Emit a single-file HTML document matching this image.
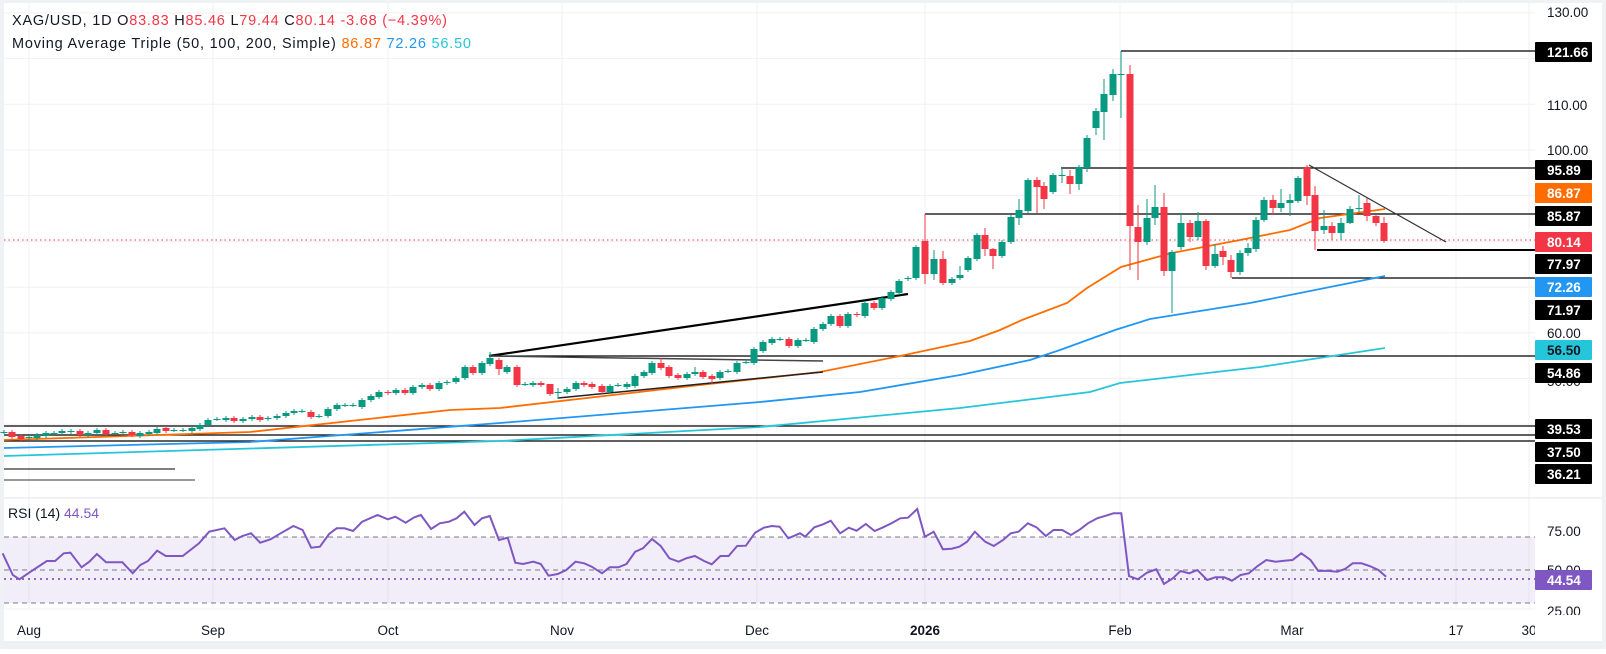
<!DOCTYPE html>
<html><head><meta charset="utf-8"><style>
html,body{margin:0;padding:0;background:#fff;}
body{width:1606px;height:649px;overflow:hidden;font-family:"Liberation Sans",sans-serif;}
svg text{font-family:"Liberation Sans",sans-serif;}
</style></head><body>
<svg id="c" width="1606" height="649" xmlns="http://www.w3.org/2000/svg"></svg>
<script>
const G='#089981',R='#f23645';
let s='';
s+='<rect x="0" y="0" width="1606" height="649" fill="#fff"/>';
s+='<rect x="0" y="641" width="1606" height="8" fill="#eef0f4"/>';
s+='<rect x="0" y="0" width="4" height="649" fill="#f0f1f5"/>';
s+='<rect x="1602" y="0" width="4" height="649" fill="#f0f1f5"/>';
s+='<rect x="0" y="0" width="1606" height="3" fill="#f0f1f5"/>';
const vx=[29,213,388,562,757,925,1120,1292,1456,1529];
vx.forEach(x=>{s+=`<line x1="${x}" y1="3" x2="${x}" y2="609" stroke="#f0f1f4" stroke-width="1"/>`;});
const py=v=>51+(121.66-v)*4.57;
[130,120,110,100,90,80,70,60,50,40].forEach(v=>{const y=py(v);s+=`<line x1="4" y1="${y}" x2="1535" y2="${y}" stroke="#f0f1f4"/>`;});
s+='<line x1="4" y1="498" x2="1602" y2="498" stroke="#e0e3eb"/>';
s+='<line x1="4" y1="609" x2="1535" y2="609" stroke="#eef0f4"/>';
const H=(x1,y,w)=>{s+=`<line x1="${x1}" y1="${y}" x2="1535" y2="${y}" stroke="#000" stroke-width="${w||1.3}"/>`;};
H(1121,51);H(1061,168);H(925,214);H(1317,250,2);H(1232,278);H(490,356);H(4,426);H(4,435);H(4,441);
s+='<line x1="4" y1="469" x2="175" y2="469" stroke="#333" stroke-width="1.2"/>';
s+='<line x1="4" y1="480" x2="195" y2="480" stroke="#333" stroke-width="1"/>';
const PL=(pts,c,w)=>{s+=`<polyline points="${pts}" fill="none" stroke="${c}" stroke-width="${w}"/>`;};
PL('4,456 500,441 760,427 960,408 1090,392 1120,383 1260,367 1385,348','#26c6da',1.8);
PL('4,448 250,442 500,423 760,402 860,392 960,375 1030,360 1060,350 1115,330 1150,319 1250,303 1385,276','#2196f3',1.8);
PL('4,440 250,432 450,410 500,408 700,385 820,372 900,356 970,341 1000,330 1022,320 1067,303 1087,288 1121,267 1172,253 1240,240 1290,230 1320,218 1385,209','#ff6d00',1.8);
s+='<line x1="489" y1="356" x2="908" y2="294" stroke="#000" stroke-width="2.2"/>';
s+='<line x1="489" y1="356" x2="823" y2="361" stroke="#444" stroke-width="1.5"/>';
s+='<line x1="558" y1="398" x2="823" y2="372" stroke="#222" stroke-width="1.5"/>';
s+='<line x1="1309" y1="165" x2="1446" y2="242" stroke="#333" stroke-width="1.2"/>';
s+='<line x1="4" y1="240" x2="1535" y2="240" stroke="#f23645" stroke-width="1" stroke-dasharray="1.5,3"/>';
const C=[[4,432,432],[12,432,437],[21,436,439],[29,438,437],[37,438,435],[46,436,433],[54,433,433],[62,433,431],[71,432,431],[80,431,435],[88,435,433],[97,433,430],[106,430,434],[115,433,433],[123,432,432],[132,432,435],[140,436,433],[149,434,432],[157,433,429],[166,428,431],[174,430,430],[183,430,430],[192,431,428],[200,429,425],[208,425,420],[217,419,419],[226,420,418],[234,418,421],[243,421,419],[252,419,417],[260,417,420],[268,419,418],[277,418,416],[286,416,413],[294,413,411],[302,411,411],[311,412,417],[319,416,416],[328,416,409],[337,409,405],[345,405,405],[353,405,405],[362,407,400],[371,400,396],[379,397,392],[388,392,393],[396,393,390],[405,390,393],[413,393,387],[422,387,385],[430,385,389],[439,389,383],[447,383,382],[456,382,378],
[465,378,367],[473,367,373],[482,373,363],[490,364,358,352,366],[499,360,369,358,375],[507,372,367],[517,367,385],[525,384,384],[533,385,383],[541,383,385],[550,384,394,392,396],[558,392,392,388,399],[567,392,389],[576,389,383],[584,383,385],[592,384,387],[602,386,392],[610,392,386],[618,385,385],[627,387,384],[635,386,376],[644,376,372],[652,373,363],[661,363,368,358,370],[669,367,376],[678,375,378],[687,378,374],[695,374,372,367,376],[703,372,377],[712,376,379,374,384],[720,378,372],[728,371,371],[737,372,363],[746,362,362],[754,363,349],[763,351,342],[772,343,339],[780,339,339],[789,339,346],[798,346,340],[806,340,340],[814,342,329],[823,329,324],[831,324,316],[840,316,326],[848,326,314],[857,314,315],[865,316,303],[874,303,308],[882,308,298],[891,299,292],[899,293,281],[908,279,278],[916,278,247],[925,241,274,214,284],[934,274,259,250,280],[943,259,283,251,285],[952,283,279],[960,278,275,266,280],[968,270,258],[977,259,235],[985,235,249,228,256],[993,249,256,248,269],[1002,256,242],[1011,242,217],[1019,218,210,199,225],[1028,211,180],[1037,180,187,177,213],[1044,186,199,182,209],[1053,192,175],[1062,175,175,167,183],[1070,176,184,170,194],[1079,184,167,165,190],
[1087,168,138,135,172],[1096,128,111,108,135],[1104,112,94,79,140],[1113,95,74,69,101],[1121,74,74,51,118],[1130,74,226,65,270],[1138,227,242,205,280],[1147,242,218,199,245],[1155,218,207,185,225],[1164,207,271,193,276],[1172,271,252,250,313],[1181,247,223,213,250],[1190,223,237,220,242],[1198,237,221,212,240],[1206,221,266,219,270],[1215,266,254,244,268],[1223,251,257,246,265],[1231,260,272,255,278],[1240,272,253,250,275],[1248,253,248,243,256],[1256,249,220,217,252],[1264,220,200,197,222],[1273,200,208,195,215],[1281,208,203,189,212],[1290,203,200,194,216],[1298,201,178,176,203],[1307,167,196,165,205],[1315,195,231,186,250],[1324,230,226,210,234],[1332,226,233,222,240],[1341,233,223,218,240],[1350,223,209,206,224],[1359,208,208,195,212],[1367,203,216,198,221],[1376,216,223,215,226],[1384,223,241,217,243]];
C.forEach(d=>{const [x,o,c]=d;const top=Math.min(o,c),bot=Math.max(o,c);const h=d[3]!==undefined?d[3]:top-2,l=d[4]!==undefined?d[4]:bot+2;const col=c>o?R:G;
s+=`<line x1="${x}" y1="${h}" x2="${x}" y2="${l}" stroke="${col}" stroke-width="1"/>`;
s+=`<rect x="${x-3.5}" y="${top}" width="7" height="${Math.max(1,bot-top)}" fill="${col}"/>`;});
s+='<rect x="4" y="537" width="1531" height="66" fill="#7e57c2" fill-opacity="0.1"/>';
[537,570,603].forEach(y=>{s+=`<line x1="4" y1="${y}" x2="1535" y2="${y}" stroke="#787b86" stroke-dasharray="5,4" stroke-width="1"/>`;});
s+='<line x1="4" y1="579" x2="1535" y2="579" stroke="#7e57c2" stroke-dasharray="2,4" stroke-width="1.8"/>';
const r1=[[5,190],[25,255],[38,268],[60,245],[80,225],[92,213],[108,213],[125,190],[138,188],[160,232],[175,215],[190,192],[208,217],[240,217],[260,250],[275,225],[290,213],[308,182],[325,198],[358,198],[390,160],[410,125],[440,115],[460,150],[475,138],[492,130],[510,158],[530,148],[550,130],[575,108],[593,120],[610,173],[627,170],[645,132],[660,115],[675,115],[692,123],[710,95],[740,75],[760,88],[775,80],[795,98],[812,82],[825,75],[845,117],[862,100],[880,95],[895,85],[910,65],[930,105],[945,85],[960,78],[978,150],[995,143],[1010,218],[1025,222],[1045,215],[1060,222],[1075,257],[1093,252],[1110,240],[1128,215],[1145,220],[1160,230],[1180,250],[1195,232],[1212,232],[1228,222],[1245,185],[1260,175],[1278,147],[1295,168],[1312,205],[1330,215],[1345,205],[1362,198],[1380,213],[1395,223],[1412,198],[1428,198],[1445,168],[1462,167],[1480,128],[1497,113],[1513,108],[1528,110],[1545,145],[1568,130]];
const r2=[[10,140],[28,112],[45,103],[60,92],[78,130],[95,113],[110,122],[128,102],[145,123],[160,113],[178,100],[195,85],[210,83],[228,57],[243,140],[260,125],[278,178],[295,176],[310,170],[325,155],[340,125],[360,155],[377,168],[395,150],[410,130],[425,125],[443,100],[460,112],[478,138],[493,120],[510,120],[527,135],[545,118],[560,100],[578,85],[595,77],[610,70],[625,70],[640,258],[657,268],[675,248],[693,238],[708,282],[725,265],[740,243],[757,250],[773,240],[792,270],[808,262],[825,262],[840,272],[857,255],[873,250],[890,228],[907,210],[925,215],[942,212],[958,210],[975,190],[993,210],[1008,243],[1025,242],[1045,245],[1060,237],[1075,220],[1092,220],[1108,228],[1125,240],[1140,260]];
let pts=r1.map(p=>`${(p[0]/1.96).toFixed(1)},${(490+p[1]/3).toFixed(1)}`).concat(r2.map(p=>`${(800+p[0]/1.945).toFixed(1)},${(490+p[1]/3).toFixed(1)}`));
PL(pts.join(' '),'#7e57c2',2);
s+='<text x="12" y="25" font-size="14.5" fill="#131722" textLength="435" lengthAdjust="spacing">XAG/USD, 1D  O<tspan fill="#f23645">83.83</tspan>  H<tspan fill="#f23645">85.46</tspan>  L<tspan fill="#f23645">79.44</tspan>  C<tspan fill="#f23645">80.14</tspan>  <tspan fill="#f23645">-3.68 (−4.39%)</tspan></text>';
s+='<text x="12" y="48" font-size="14.5" fill="#131722" textLength="459" lengthAdjust="spacing">Moving Average Triple (50, 100, 200, Simple)  <tspan fill="#ff6d00">86.87</tspan>  <tspan fill="#2196f3">72.26</tspan>  <tspan fill="#26c6da">56.50</tspan></text>';
s+='<text x="8" y="518" font-size="14" fill="#131722">RSI (14)  <tspan fill="#7e57c2">44.54</tspan></text>';
const AL=(t,y)=>{s+=`<text x="1547" y="${y+5}" font-size="13.5" fill="#131722">${t}</text>`;};
AL('130.00',12);AL('110.00',105);AL('100.00',150);AL('60.00',333);AL('50.00',381);AL('75.00',531);AL('50.00',570);AL('25.00',611);
const B=(t,y,bg,fg)=>{s+=`<rect x="1535" y="${y-10}" width="57" height="20" rx="1" fill="${bg}"/><text x="1547" y="${y+5}" font-size="13.5" font-weight="bold" fill="${fg||'#fff'}">${t}</text>`;};
B('121.66',52,'#000');B('95.89',170,'#000');B('86.87',193,'#ff6d00');B('85.87',216,'#000');B('80.14',242,'#f23645');B('77.97',264,'#000');B('72.26',287,'#2196f3');B('71.97',310,'#000');B('56.50',350,'#26c6da','#131722');B('54.86',373,'#000');B('39.53',429,'#000');B('37.50',452,'#000');B('36.21',474,'#000');B('44.54',580,'#7e57c2');
const TL=(t,x,b)=>{s+=`<text x="${x}" y="635" font-size="13.5" text-anchor="middle" fill="#131722"${b?' font-weight="bold"':''}>${t}</text>`;};
TL('Aug',29);TL('Sep',213);TL('Oct',388);TL('Nov',562);TL('Dec',757);TL('2026',925,1);TL('Feb',1120);TL('Mar',1292);TL('17',1456);TL('30',1529);
s+='<rect x="1535" y="615" width="67" height="26" fill="#fff"/>';
document.getElementById('c').innerHTML=s;
</script>
</body></html>
